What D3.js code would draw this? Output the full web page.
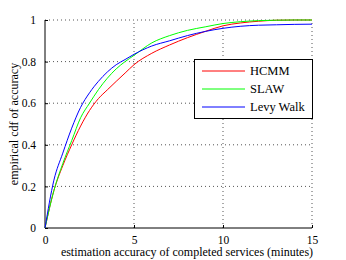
<!DOCTYPE html>
<html>
<head>
<meta charset="utf-8">
<script src="https://cdn.jsdelivr.net/npm/d3@7"></script>
<style>
body { margin: 0; background: #fff; }
svg { font-family: "Liberation Serif", "Times New Roman", serif; }
</style>
</head>
<body>
<div id="chart"></div>
<script>
const w = 346;
const h = 260;

const xs = [0, 0.5, 1, 1.5, 2, 2.5, 3, 3.5, 4, 4.5, 5, 6, 7, 8, 9, 10, 11, 12, 13, 14, 15];
const hcmm = [0, 0.18, 0.30, 0.40, 0.49, 0.565, 0.622, 0.664, 0.705, 0.745, 0.785, 0.84, 0.88, 0.915, 0.945, 0.972, 0.986, 0.994, 0.999, 1, 1];
const slaw = [0, 0.18, 0.31, 0.42, 0.53, 0.60, 0.665, 0.72, 0.765, 0.80, 0.83, 0.89, 0.925, 0.95, 0.967, 0.983, 0.992, 0.997, 0.999, 1, 1];
const levy = [0, 0.23, 0.36, 0.48, 0.58, 0.65, 0.705, 0.75, 0.785, 0.81, 0.835, 0.875, 0.90, 0.925, 0.945, 0.96, 0.97, 0.975, 0.977, 0.979, 0.98];
const xTicks = [0, 5, 10, 15];
const yTicks = [0, 0.2, 0.4, 0.6, 0.8, 1];

const series = [
    { name: "HCMM", values: hcmm, color: "#ff0000" },
    { name: "SLAW", values: slaw, color: "#00ff00" },
    { name: "Levy Walk", values: levy, color: "#0000ff" }
];

const svg = d3.select("#chart")
    .append("svg")
    .attr("width", w)
    .attr("height", h);

const x = d3.scaleLinear().domain([0, 15]).range([45, 312]);
const y = d3.scaleLinear().domain([0, 1]).range([228, 20]);

// grid
svg.append("g").selectAll("line")
    .data(xTicks.slice(1))
    .enter().append("line")
    .attr("x1", d => x(d)).attr("x2", d => x(d))
    .attr("y1", y(0)).attr("y2", y(1))
    .attr("stroke", "#555").attr("stroke-dasharray", "1,3");

svg.append("g").selectAll("line")
    .data(yTicks.slice(1))
    .enter().append("line")
    .attr("x1", x(0)).attr("x2", x(15))
    .attr("y1", d => y(d)).attr("y2", d => y(d))
    .attr("stroke", "#555").attr("stroke-dasharray", "1,3");

// axes
const xAxis = d3.axisBottom(x).tickValues(xTicks).tickSize(-3).tickPadding(8).tickFormat(d3.format("d"));
const yAxis = d3.axisLeft(y).tickValues(yTicks).tickSize(-3).tickPadding(9).tickFormat(d => d === 0 || d === 1 ? d : d.toFixed(1));

svg.append("g")
    .attr("transform", `translate(0,${y(0)})`)
    .call(xAxis)
    .call(g => g.select(".domain").attr("d", `M${x(0)},0H${x(15)}`));

svg.append("g")
    .attr("transform", `translate(${x(0)},0)`)
    .call(yAxis)
    .call(g => g.select(".domain").attr("d", `M0,${y(0)}V${y(1)}`));

svg.selectAll(".tick text")
    .attr("font-family", "Liberation Serif")
    .attr("font-size", 11.5)
    .attr("fill", "#000");

// lines
const line = d3.line()
    .x((d, i) => x(xs[i]))
    .y(d => y(d))
    .curve(d3.curveMonotoneX);

svg.selectAll(".series")
    .data(series)
    .enter().append("path")
    .attr("class", "series")
    .attr("d", d => line(d.values))
    .attr("fill", "none")
    .attr("stroke", d => d.color)
    .attr("stroke-width", 1);

// labels
svg.append("text")
    .attr("x", 187)
    .attr("y", 256)
    .attr("text-anchor", "middle")
    .attr("font-size", 12)
    .text("estimation accuracy of completed services (minutes)");

svg.append("text")
    .attr("transform", "translate(18,124) rotate(-90)")
    .attr("text-anchor", "middle")
    .attr("font-size", 12)
    .text("empirical cdf of accuracy");

// legend
const legend = svg.append("g");
legend.append("rect")
    .attr("x", 194.5).attr("y", 59.5)
    .attr("width", 118).attr("height", 59)
    .attr("fill", "#fff").attr("stroke", "#000");

series.forEach((s, i) => {
    const ly = 71 + i * 18;
    legend.append("line")
        .attr("x1", 202).attr("x2", 245)
        .attr("y1", ly).attr("y2", ly)
        .attr("stroke", s.color);
    legend.append("text")
        .attr("x", 250).attr("y", ly + 4)
        .attr("font-size", 12.5)
        .text(s.name);
});
</script>
</body>
</html>
